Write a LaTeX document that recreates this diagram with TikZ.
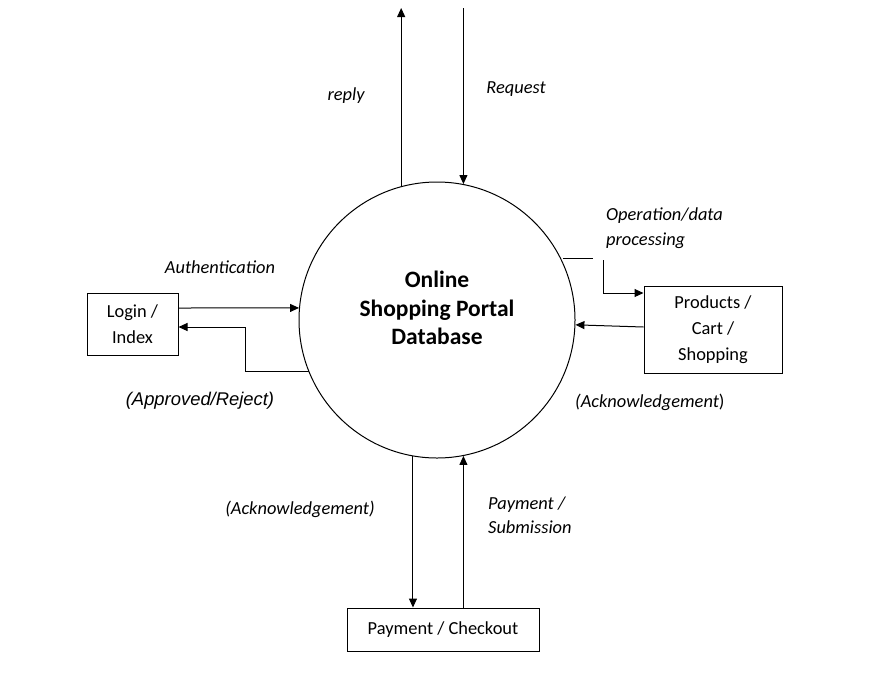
\documentclass[tikz,border=0pt]{standalone}
\usepackage{fontspec}
\setmainfont{Carlito}
\newfontfamily\arialfont{Liberation Sans}
\usetikzlibrary{arrows.meta}
\tikzset{
  flow/.style={line width=1pt,-{Triangle[length=9pt,width=8pt]}},
  plain/.style={line width=1pt},
  box/.style={draw,line width=1pt,inner sep=0pt,align=center,font=\fontsize{18.4}{26}\selectfont},
  lbl/.style={inner sep=0pt,font=\fontsize{18.4}{24.5}\selectfont\itshape},
}
\begin{document}
\begin{tikzpicture}[x=1pt,y=-1pt]
\useasboundingbox (0,0) rectangle (877,691);
% central process
\node[draw,circle,line width=1pt,minimum size=276pt,inner sep=0pt] (db) at (437,320) {};
\node[align=center,inner sep=0pt,font=\fontsize{23.5}{28.5}\selectfont\bfseries] (title) at (437,308) {Online\\Shopping Portal\\Database};
% boxes
\node[box,minimum width=91pt,minimum height=62pt] (login) at (132.5,324) {Login /\\Index};
\node[box,minimum width=138pt,minimum height=87pt] (prod) at (713,329.5) {Products /\\Cart /\\Shopping};
\node[box,minimum width=192pt,minimum height=43pt] (pay) at (443,629.5) {Payment / Checkout};
% top free ends
\coordinate (top) at (0,8);
\draw[flow] (db.105.6) -- (db.105.6 |- top);
\draw[flow] (db.79.1 |- top) -- (db.79.1);
% login flows
\draw[flow] ([yshift=16pt]login.east) -- (db.175);
\coordinate (r1) at (245,327);
\draw[flow] (db.202.6) -| (r1) -- (login.east |- r1);
% products flows
\coordinate (o1) at (563,258);
\coordinate (o2) at (593,258);
\draw[plain] (o1) -- (o2);
\coordinate (o3) at (603,260);
\coordinate (o4) at (0,293);
\draw[flow] (o3) |- (prod.west |- o4);
\coordinate (a1) at (0,327);
\draw[flow] (prod.west |- a1) -- (db.-2.9);
% payment flows
\draw[flow] (db.-100) -- (db.-100 |- pay.north);
\draw[flow] (db.-79.15 |- pay.north) -- (db.-79.15);
% labels
\node[lbl] (lreply) at (346,96) {reply};
\node[lbl] (lreq) at (516,89) {Request};
\node[lbl] (lauth) at (220,267) {Authentication};
\node[inner sep=0pt,font=\arialfont\fontsize{18.4}{20}\selectfont\itshape] (lappr) at (200,401) {(Approved/Reject)};
\node[lbl,anchor=west,align=left] (lop) at (606,228) {Operation/data\\processing};
\node[inner sep=0pt,anchor=west,font=\fontsize{18.4}{24}\selectfont] (lack1) at (575,402) {\textit{(Acknowledgement}{)}};
\node[lbl] (lack2) at (300,509) {(Acknowledgement)};
\node[lbl,anchor=west,align=left] (lpay) at (488,515.5) {Payment /\\Submission};
\end{tikzpicture}
\end{document}
